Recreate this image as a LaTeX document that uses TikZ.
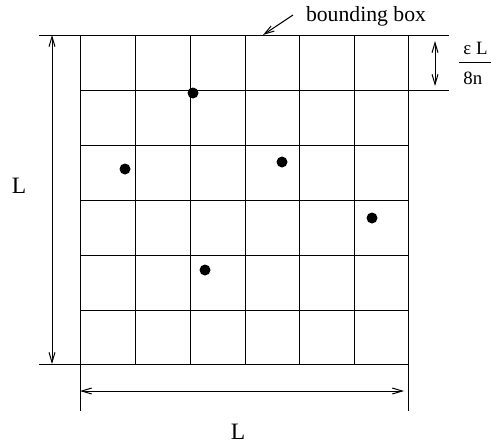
\documentclass[tikz,border=0pt]{standalone}
\usepackage{fontspec}
\setmainfont{Liberation Serif}
\usetikzlibrary{arrows.meta}
\begin{document}
\begin{tikzpicture}[x=0.5pt,y=-0.5pt,
  gridline/.style={line width=0.5pt},
  dimline/.style={line width=0.5pt},
  dimarrow/.style={line width=0.5pt,{Straight Barb[length=5pt,width=3pt]}-{Straight Barb[length=5pt,width=3pt]}},
  onearrow/.style={line width=0.5pt,-{Straight Barb[length=5pt,width=3pt]}},
  dot/.style={circle,fill=black,inner sep=0pt,minimum size=5.5pt},
  lbl/.style={inner sep=0pt,font=\fontsize{10.85}{13}\selectfont},
  biglbl/.style={inner sep=0pt,font=\fontsize{11.75}{14}\selectfont},
  smalllbl/.style={inner sep=0pt,font=\fontsize{9.4}{11}\selectfont}]
\useasboundingbox (0,0) rectangle (491,445);
% grid
\foreach \x in {80,135,190,245,299,354,408} \draw[gridline] (\x,35) -- (\x,364);
\foreach \y in {35,90,145,200,255,310,364} \draw[gridline] (80,\y) -- (408,\y);
% extension lines
\draw[dimline] (39,35) -- (449,35);
\draw[dimline] (39,364) -- (80,364);
\draw[dimline] (408,90) -- (449,90);
\draw[dimline] (80,364) -- (80,411);
\draw[dimline] (408,364) -- (408,411);
% dimension arrows
\coordinate (vt) at (52,35);
\coordinate (vb) at (52,364);
\draw[dimarrow] (vt) -- (vb);
\coordinate (hl) at (80,391);
\coordinate (hr) at (404,391);
\draw[dimarrow] (hl) -- (hr);
\coordinate (st) at (435,41);
\coordinate (sb) at (435,86);
\draw[dimarrow] (st) -- (sb);
% labels
\node[biglbl,anchor=base] (lleft) at (19,193) {L};
\node[biglbl,anchor=base] (lbot) at (238,439) {L};
\node[lbl,anchor=base] (bb) at (366,21) {bounding box};
\node[smalllbl,anchor=base west] (eps) at (463,54) {ε L};
\node[smalllbl,anchor=base west] (den) at (463,84) {8n};
\draw[line width=0.5pt] (459,62) -- (491,62);
\coordinate (bbtail) at (293,15);
\coordinate (bbtip) at (263,35);
\draw[onearrow] (bbtail) -- (bbtip);
% dots
\node[dot] (d1) at (193,93) {};
\node[dot] (d2) at (125,169) {};
\node[dot] (d3) at (282,162) {};
\node[dot] (d4) at (372,218) {};
\node[dot] (d5) at (205,270) {};
\end{tikzpicture}
\end{document}
